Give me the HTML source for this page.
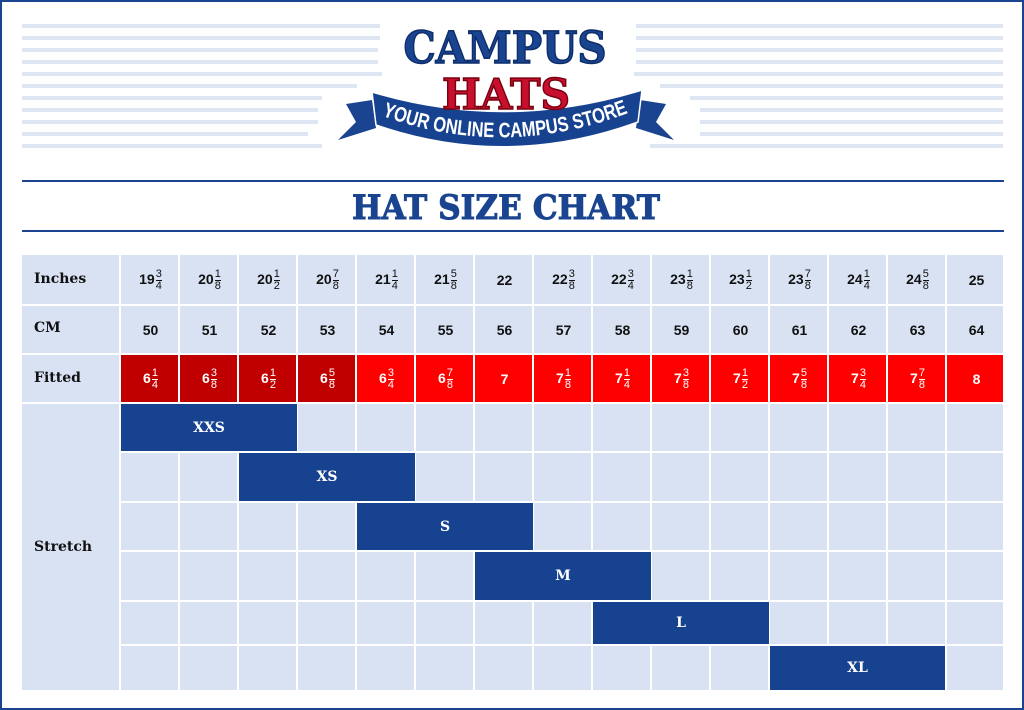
<!DOCTYPE html>
<html><head><meta charset="utf-8">
<style>
*{margin:0;padding:0;box-sizing:border-box}
body{width:1024px;height:710px;background:#fff;position:relative;overflow:hidden;font-family:"DejaVu Serif","Liberation Serif",serif}
.frame{position:absolute;left:0;top:0;width:1024px;height:710px;border:2px solid #1a4490}
.st{position:absolute;height:4px;background:#dfe6f3}
.hl{position:absolute;left:22px;width:982px;height:2px;background:#1a4490}
.tb{position:absolute;left:22px;top:255px;width:981px;height:435px;background:#d9e2f3}
.v{position:absolute;width:2px;background:#fff}
.h{position:absolute;height:2px;background:#fff}
.red{position:absolute;top:355px;height:47px;width:57px}
.bar{position:absolute;background:#17428f;color:#fff;font:bold 14px "DejaVu Serif",serif;display:flex;align-items:center;justify-content:center}
.lab{position:absolute;left:34px;font:bold 14px "DejaVu Serif",serif;color:#111}
.row{position:absolute;left:121px;display:flex;height:48px;align-items:center}
.row div{width:59px;text-align:center;font:bold 14px "Liberation Sans",sans-serif;color:#111}
.row.w div{color:#fff}
.f{display:inline-block;vertical-align:middle;font-size:11px;line-height:11px;margin-left:1px;text-align:center;font-weight:normal}
.f i{display:block;font-style:normal}
.f i+i{border-top:1px solid currentColor}
</style></head><body>
<div class="frame"></div>
<div class="st" style="left:22px;top:24px;width:358px"></div>
<div class="st" style="left:22px;top:36px;width:358px"></div>
<div class="st" style="left:22px;top:48px;width:356px"></div>
<div class="st" style="left:22px;top:60px;width:356px"></div>
<div class="st" style="left:22px;top:72px;width:360px"></div>
<div class="st" style="left:22px;top:84px;width:335px"></div>
<div class="st" style="left:22px;top:96px;width:300px"></div>
<div class="st" style="left:22px;top:108px;width:296px"></div>
<div class="st" style="left:22px;top:120px;width:296px"></div>
<div class="st" style="left:22px;top:132px;width:286px"></div>
<div class="st" style="left:22px;top:144px;width:300px"></div>
<div class="st" style="left:636px;top:24px;width:367px"></div>
<div class="st" style="left:636px;top:36px;width:367px"></div>
<div class="st" style="left:636px;top:48px;width:367px"></div>
<div class="st" style="left:636px;top:60px;width:367px"></div>
<div class="st" style="left:634px;top:72px;width:369px"></div>
<div class="st" style="left:660px;top:84px;width:343px"></div>
<div class="st" style="left:690px;top:96px;width:313px"></div>
<div class="st" style="left:700px;top:108px;width:303px"></div>
<div class="st" style="left:700px;top:120px;width:303px"></div>
<div class="st" style="left:700px;top:132px;width:303px"></div>
<div class="st" style="left:650px;top:144px;width:353px"></div>
<svg style="position:absolute;left:0;top:0" width="1024" height="240">
<path d="M372,100 L346,104 L356,122 L338,140 L376,128 Z" fill="#1a4490"/>
<path d="M640,100 L666,104 L656,122 L674,140 L636,128 Z" fill="#1a4490"/>
<path d="M372,92 Q506,132 642,90 L638,122 Q506,170 376,125 Z" fill="#17428f" stroke="#fff" stroke-width="1.5"/>
<path id="cv" d="M380,115 Q506,162 636,110" fill="none"/>
<text font-family="Liberation Sans,sans-serif" font-weight="bold" font-size="21" fill="#fff"><textPath href="#cv" textLength="252" lengthAdjust="spacingAndGlyphs" startOffset="2">YOUR ONLINE CAMPUS STORE</textPath></text>
<text x="505" y="63" text-anchor="middle" font-family="DejaVu Serif,serif" font-weight="bold" font-size="44" textLength="203" lengthAdjust="spacingAndGlyphs" fill="#1a4490" stroke="#0d2d6b" stroke-width="1.5">CAMPUS</text>
<text x="506" y="109" text-anchor="middle" font-family="DejaVu Serif,serif" font-weight="bold" font-size="42" textLength="128" lengthAdjust="spacingAndGlyphs" fill="#c8102e" stroke="#7a0010" stroke-width="1.5">HATS</text>
<text x="506" y="219" text-anchor="middle" font-family="DejaVu Serif,serif" font-weight="bold" font-size="34" textLength="308" lengthAdjust="spacingAndGlyphs" fill="#1a4490" stroke="#1a4490" stroke-width="1">HAT SIZE CHART</text>
</svg>
<div class="hl" style="top:180px"></div>
<div class="hl" style="top:230px"></div>

<div class="tb"></div>
<div class="red" style="left:121px;background:#c00000"></div>
<div class="red" style="left:180px;background:#c00000"></div>
<div class="red" style="left:239px;background:#c00000"></div>
<div class="red" style="left:298px;background:#c00000"></div>
<div class="red" style="left:357px;width:646px;background:#ff0000"></div>
<div class="h" style="left:22px;top:304px;width:981px"></div>
<div class="h" style="left:22px;top:353px;width:981px"></div>
<div class="h" style="left:22px;top:402px;width:981px"></div>
<div class="h" style="left:120px;top:451px;width:883px"></div>
<div class="h" style="left:120px;top:501px;width:883px"></div>
<div class="h" style="left:120px;top:550px;width:883px"></div>
<div class="h" style="left:120px;top:600px;width:883px"></div>
<div class="h" style="left:120px;top:644px;width:883px"></div>
<div class="v" style="left:119px;top:255px;height:435px"></div>
<div class="v" style="left:178px;top:255px;height:435px"></div>
<div class="v" style="left:237px;top:255px;height:435px"></div>
<div class="v" style="left:296px;top:255px;height:435px"></div>
<div class="v" style="left:355px;top:255px;height:435px"></div>
<div class="v" style="left:414px;top:255px;height:435px"></div>
<div class="v" style="left:473px;top:255px;height:435px"></div>
<div class="v" style="left:532px;top:255px;height:435px"></div>
<div class="v" style="left:591px;top:255px;height:435px"></div>
<div class="v" style="left:650px;top:255px;height:435px"></div>
<div class="v" style="left:709px;top:255px;height:435px"></div>
<div class="v" style="left:768px;top:255px;height:435px"></div>
<div class="v" style="left:827px;top:255px;height:435px"></div>
<div class="v" style="left:886px;top:255px;height:435px"></div>
<div class="v" style="left:945px;top:255px;height:435px"></div>
<div class="bar" style="left:121px;top:404px;width:176px;height:47px">XXS</div>
<div class="bar" style="left:239px;top:453px;width:176px;height:48px">XS</div>
<div class="bar" style="left:357px;top:503px;width:176px;height:47px">S</div>
<div class="bar" style="left:475px;top:552px;width:176px;height:48px">M</div>
<div class="bar" style="left:593px;top:602px;width:176px;height:42px">L</div>
<div class="bar" style="left:770px;top:646px;width:175px;height:44px">XL</div>

<div class="lab" style="top:271px">Inches</div>
<div class="lab" style="top:320px">CM</div>
<div class="lab" style="top:370px">Fitted</div>
<div class="lab" style="top:539px">Stretch</div>

<div class="row" style="top:256px">
<div>19<span class="f"><i>3</i><i>4</i></span></div>
<div>20<span class="f"><i>1</i><i>8</i></span></div>
<div>20<span class="f"><i>1</i><i>2</i></span></div>
<div>20<span class="f"><i>7</i><i>8</i></span></div>
<div>21<span class="f"><i>1</i><i>4</i></span></div>
<div>21<span class="f"><i>5</i><i>8</i></span></div>
<div>22</div>
<div>22<span class="f"><i>3</i><i>8</i></span></div>
<div>22<span class="f"><i>3</i><i>4</i></span></div>
<div>23<span class="f"><i>1</i><i>8</i></span></div>
<div>23<span class="f"><i>1</i><i>2</i></span></div>
<div>23<span class="f"><i>7</i><i>8</i></span></div>
<div>24<span class="f"><i>1</i><i>4</i></span></div>
<div>24<span class="f"><i>5</i><i>8</i></span></div>
<div>25</div>
</div>
<div class="row" style="top:306px">
<div>50</div><div>51</div><div>52</div><div>53</div><div>54</div><div>55</div><div>56</div><div>57</div><div>58</div><div>59</div><div>60</div><div>61</div><div>62</div><div>63</div><div>64</div>
</div>
<div class="row w" style="top:355px">
<div>6<span class="f"><i>1</i><i>4</i></span></div>
<div>6<span class="f"><i>3</i><i>8</i></span></div>
<div>6<span class="f"><i>1</i><i>2</i></span></div>
<div>6<span class="f"><i>5</i><i>8</i></span></div>
<div>6<span class="f"><i>3</i><i>4</i></span></div>
<div>6<span class="f"><i>7</i><i>8</i></span></div>
<div>7</div>
<div>7<span class="f"><i>1</i><i>8</i></span></div>
<div>7<span class="f"><i>1</i><i>4</i></span></div>
<div>7<span class="f"><i>3</i><i>8</i></span></div>
<div>7<span class="f"><i>1</i><i>2</i></span></div>
<div>7<span class="f"><i>5</i><i>8</i></span></div>
<div>7<span class="f"><i>3</i><i>4</i></span></div>
<div>7<span class="f"><i>7</i><i>8</i></span></div>
<div>8</div>
</div>
</body></html>
